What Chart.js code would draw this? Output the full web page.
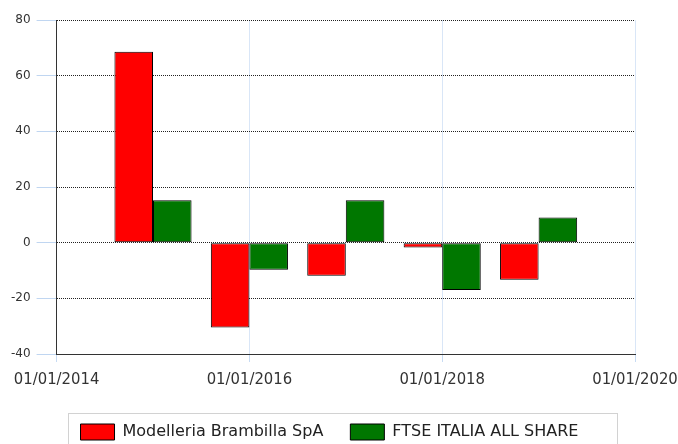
<!DOCTYPE html>
<html>
<head>
<meta charset="utf-8">
<script src="https://cdn.jsdelivr.net/npm/chart.js@4/dist/chart.umd.min.js"></script>
<style>
    html, body { margin: 0; padding: 0; background: #fff; }
</style>
</head>
<body>
<canvas id="chartReturns" width="678" height="444"></canvas>
<script>
// yearly returns, each bar dated 01/01 of the following year
var barYears = [2015, 2016, 2017, 2018, 2019];
var brambillaValues = [68.6, -30.5, -11.9, -1.7, -13.3];
var ftseValues = [15.2, -9.7, 15.2, -17.0, 9.0];
var seriesNames = ['Modelleria Brambilla SpA', 'FTSE ITALIA ALL SHARE'];
var xTickValues = [2014, 2016, 2018, 2020];
var xTickLabels = ['01/01/2014', '01/01/2016', '01/01/2018', '01/01/2020'];
var yMin = -40, yMax = 80, yStep = 20;

function toPoints(values) {
    var pts = [];
    for (var i = 0; i < values.length; i++) {
        pts.push({ x: barYears[i], y: values[i] });
    }
    return pts;
}

// grey frame around the legend
var legendBoxPlugin = {
    id: 'legendBox',
    afterDraw: function(chart) {
        var lg = chart.legend;
        if (!lg || !lg.legendHitBoxes || !lg.legendHitBoxes.length) return;
        var first = lg.legendHitBoxes[0];
        var ctx = chart.ctx;
        var left = chart.chartArea.left + 11;
        var right = chart.chartArea.right - 18;
        var top = first.top - 11;
        ctx.save();
        ctx.strokeStyle = '#d2d2d2';
        ctx.lineWidth = 1;
        ctx.strokeRect(Math.round(left) + 0.5, Math.round(top) + 0.5, Math.round(right - left), 60);
        ctx.restore();
    }
};

var ctx = document.getElementById('chartReturns');
var myChart = new Chart(ctx, {
    type: 'bar',
    data: {
        datasets: [{
            label: seriesNames[0],
            data: toPoints(brambillaValues),
            backgroundColor: '#ff0000',
            borderColor: '#000000',
            borderWidth: 1,
            borderSkipped: false,
            categoryPercentage: 0.8,
            barPercentage: 1.0
        }, {
            label: seriesNames[1],
            data: toPoints(ftseValues),
            backgroundColor: '#007700',
            borderColor: '#000000',
            borderWidth: 1,
            borderSkipped: false,
            categoryPercentage: 0.8,
            barPercentage: 1.0
        }]
    },
    plugins: [legendBoxPlugin],
    options: {
        responsive: false,
        animation: false,
        layout: {
            padding: { left: 5, top: 20, right: 24, bottom: -6 }
        },
        plugins: {
            title: { display: false },
            tooltip: { enabled: false },
            legend: {
                position: 'bottom',
                labels: {
                    boxWidth: 34,
                    boxHeight: 16,
                    padding: 27,
                    color: '#222',
                    font: { family: 'DejaVu Sans', size: 16 }
                }
            }
        },
        scales: {
            x: {
                type: 'linear',
                offset: false,
                min: xTickValues[0],
                max: xTickValues[xTickValues.length - 1],
                afterFit: function(scale) {
                    scale.height = 43;
                    // keep only the half label width as side room
                    scale.paddingLeft = 0;
                    scale.paddingRight = 43;
                },
                ticks: {
                    stepSize: 2,
                    autoSkip: false,
                    maxRotation: 0,
                    padding: 8,
                    color: '#333',
                    font: { family: 'DejaVu Sans Condensed, DejaVu Sans', size: 16.5 },
                    callback: function(value) {
                        var i = xTickValues.indexOf(value);
                        return i >= 0 ? xTickLabels[i] : '';
                    }
                },
                grid: {
                    offset: false,
                    color: 'rgba(185, 210, 240, 0.55)',
                    tickColor: 'rgba(185, 210, 240, 0.8)',
                    tickLength: 8
                },
                border: { display: true, color: '#333', width: 1 }
            },
            y: {
                min: yMin,
                max: yMax,
                ticks: {
                    stepSize: yStep,
                    padding: 6,
                    color: '#333',
                    font: { family: 'DejaVu Sans', size: 12 }
                },
                grid: {
                    color: '#222',
                    tickColor: 'rgba(185, 210, 240, 0.9)',
                    tickLength: 20,
                    tickBorderDash: []
                },
                border: { display: true, color: '#333', width: 1, dash: [1, 1] }
            }
        }
    }
});
</script>
</body>
</html>
